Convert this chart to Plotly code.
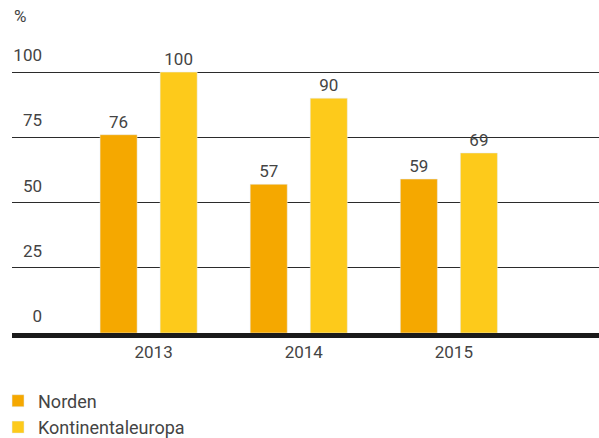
import plotly.graph_objects as go

years = ["2013", "2014", "2015"]
norden = [76, 57, 59]
kontinental = [100, 90, 69]
y_ticks = [0, 25, 50, 75, 100]

C_NORDEN = "#F5A800"
C_KONT = "#FDCA1B"
TXT = "#444444"
FONT = "Roboto"

x_pos = list(range(len(years)))

fig = go.Figure()
fig.add_trace(go.Bar(
    x=x_pos, y=norden, name="Norden", marker_color=C_NORDEN,
    text=[str(v) for v in norden], textposition="outside",
    textfont=dict(size=17, color=TXT, family=FONT), cliponaxis=False,
))
fig.add_trace(go.Bar(
    x=x_pos, y=kontinental, name="Kontinentaleuropa", marker_color=C_KONT,
    text=[str(v) for v in kontinental], textposition="outside",
    textfont=dict(size=17, color=TXT, family=FONT), cliponaxis=False,
))

fig.update_layout(
    width=599, height=438,
    margin=dict(l=12, r=0, t=40, b=105, autoexpand=False),
    paper_bgcolor="white", plot_bgcolor="white",
    barmode="group", bargap=0.2, bargroupgap=0.383,
    font=dict(family=FONT, size=17, color=TXT),
    showlegend=True,
    legend=dict(
        orientation="v", x=-0.0238, xanchor="left", y=-0.169, yanchor="top",
        font=dict(size=18, color=TXT, family=FONT),
        tracegroupgap=0, itemclick=False, bgcolor="rgba(0,0,0,0)",
    ),
    xaxis=dict(
        range=[-0.91, 3.0], tickmode="array", tickvals=x_pos, ticktext=years,
        showgrid=False, zeroline=False, showline=True, linecolor="#1a1a1a",
        linewidth=5, ticks="", tickfont=dict(size=17, color=TXT, family=FONT),
        ticklabelshift=5, ticklabelstandoff=0, automargin=False,
    ),
    yaxis=dict(
        range=[0, 112.3], tickmode="array", tickvals=y_ticks,
        ticktext=[str(v) for v in y_ticks],
        showgrid=True, gridcolor="#2b2b2b", gridwidth=1,
        zeroline=False, showline=False, ticks="",
        tickfont=dict(size=17, color=TXT, family=FONT),
        ticklabelshift=-17, ticklabelstandoff=-31, automargin=False,
    ),
    annotations=[dict(
        text="%", xref="paper", yref="paper", x=0.0, y=1.0, yshift=24,
        xanchor="left", yanchor="middle", showarrow=False,
        font=dict(size=17, color=TXT, family=FONT),
    )],
)

fig.write_html(
    "out.html",
    config={"displayModeBar": False},
    post_script="document.body.style.margin='0';document.body.style.overflow='hidden';",
)
